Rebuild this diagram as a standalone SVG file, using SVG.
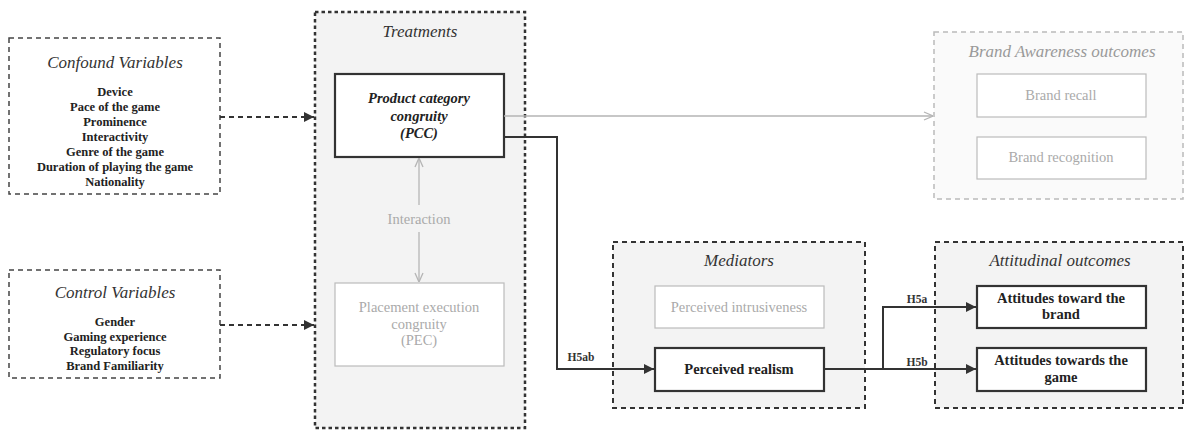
<svg xmlns="http://www.w3.org/2000/svg" width="1186" height="430" viewBox="0 0 1186 430" font-family="Liberation Serif, DejaVu Serif, serif">
<defs>
<style>
text{font-family:'Liberation Serif','DejaVu Serif',serif;text-anchor:middle;dominant-baseline:central}
.title{font-style:italic;font-size:17px;fill:#333}
.item{font-weight:bold;font-size:12.5px;fill:#222}
.grp{fill:#f3f3f3;stroke:#333;stroke-width:2;stroke-dasharray:5 4}
.grpL{fill:#fafafa;stroke:#bbb;stroke-width:1.5;stroke-dasharray:5 4}
.side{fill:#fff;stroke:#444;stroke-width:1.5;stroke-dasharray:5 4}
.boxD{fill:#fff;stroke:#333;stroke-width:2.2}
.boxL{fill:#fff;stroke:#bbb;stroke-width:1.2}
.gt{fill:#aaa;font-size:14.5px}
.bt{font-weight:bold;font-size:14.5px;fill:#222}
.pcc{font-weight:bold;font-style:italic;font-size:14.5px;fill:#222}
.lbl{font-weight:bold;font-size:11.5px;fill:#333}
.dk{fill:none;stroke:#333;stroke-width:2}
.dkd{fill:none;stroke:#333;stroke-width:2;stroke-dasharray:5 4}
.lt{fill:none;stroke:#b5b5b5;stroke-width:1.3}
</style>
<marker id="af" viewBox="0 0 10 10" refX="10" refY="5" markerWidth="10" markerHeight="10" markerUnits="userSpaceOnUse" orient="auto"><path d="M0,0 L10,5 L0,10 z" fill="#333"/></marker>
<marker id="ao" viewBox="0 0 10 10" refX="10" refY="5" markerWidth="10" markerHeight="10" markerUnits="userSpaceOnUse" orient="auto"><path d="M1,1 L10,5 L1,9" fill="none" stroke="#b5b5b5" stroke-width="1.3"/></marker>
</defs>
<rect width="1186" height="430" fill="#fff"/>

<g id="confound">
<rect class="side" x="9" y="38" width="211" height="156"/>
<text class="title" x="115" y="62">Confound Variables</text>
<text class="item" x="115" y="92">Device</text>
<text class="item" x="115" y="107">Pace of the game</text>
<text class="item" x="115" y="122">Prominence</text>
<text class="item" x="115" y="137">Interactivity</text>
<text class="item" x="115" y="152">Genre of the game</text>
<text class="item" x="115" y="167">Duration of playing the game</text>
<text class="item" x="115" y="182">Nationality</text>
</g>

<g id="control">
<rect class="side" x="9" y="270" width="211" height="108"/>
<text class="title" x="115" y="292">Control Variables</text>
<text class="item" x="115" y="322">Gender</text>
<text class="item" x="115" y="337">Gaming experience</text>
<text class="item" x="115" y="351">Regulatory focus</text>
<text class="item" x="115" y="366">Brand Familiarity</text>
</g>

<g id="treatments">
<rect class="grp" x="315" y="12" width="210" height="416" style="stroke-dasharray:3.5 3;stroke-width:2.5"/>
<text class="title" x="420" y="31">Treatments</text>
</g>

<g id="pcc">
<rect class="boxD" x="335" y="74" width="169" height="83"/>
<text class="pcc" x="419" y="98">Product category</text>
<text class="pcc" x="419" y="116">congruity</text>
<text class="pcc" x="419" y="133">(PCC)</text>
</g>

<g id="pec">
<rect class="boxL" x="335" y="283" width="169" height="83"/>
<text class="gt" x="419" y="307">Placement execution</text>
<text class="gt" x="419" y="324">congruity</text>
<text class="gt" x="419" y="340">(PEC)</text>
</g>

<g id="brandAwareness">
<rect class="grpL" x="934" y="32" width="249" height="167"/>
<text class="title" x="1062" y="51" style="fill:#999">Brand Awareness outcomes</text>
</g>
<g id="brandRecall">
<rect class="boxL" x="977" y="74" width="169" height="43"/>
<text class="gt" x="1061" y="95">Brand recall</text>
</g>
<g id="brandRecognition">
<rect class="boxL" x="977" y="137" width="169" height="42"/>
<text class="gt" x="1061" y="157">Brand recognition</text>
</g>

<g id="mediators">
<rect class="grp" x="613" y="242" width="252" height="166"/>
<text class="title" x="739" y="260">Mediators</text>
</g>
<g id="intrusiveness">
<rect class="boxL" x="655" y="286" width="169" height="42"/>
<text class="gt" x="739" y="307">Perceived intrusiveness</text>
</g>
<g id="realism">
<rect class="boxD" x="655" y="348" width="169" height="43"/>
<text class="bt" x="739" y="369">Perceived realism</text>
</g>

<g id="attitudinal">
<rect class="grp" x="935" y="242" width="248" height="166"/>
<text class="title" x="1060" y="260">Attitudinal outcomes</text>
</g>
<g id="attBrand">
<rect class="boxD" x="977" y="286" width="169" height="42"/>
<text class="bt" x="1061" y="298">Attitudes toward the</text>
<text class="bt" x="1061" y="314">brand</text>
</g>
<g id="attGame">
<rect class="boxD" x="977" y="348" width="169" height="43"/>
<text class="bt" x="1061" y="360">Attitudes towards the</text>
<text class="bt" x="1061" y="377">game</text>
</g>

<g id="connectors">
<path class="dkd" d="M220,117 H314" marker-end="url(#af)"/>
<path class="dkd" d="M220,325 H314" marker-end="url(#af)"/>
<path class="lt" d="M504,116 H933" marker-end="url(#ao)"/>
<path class="lt" d="M419,205 V158" marker-end="url(#ao)"/>
<path class="lt" d="M419,232 V282" marker-end="url(#ao)"/>
<text x="419" y="219" style="font-size:14.5px;fill:#aaa">Interaction</text>
<path class="dk" d="M504,137 H557 V369 H654" marker-end="url(#af)"/>
<text class="lbl" x="581" y="357">H5ab</text>
<path class="dk" d="M824,369 H976" marker-end="url(#af)"/>
<path class="dk" d="M883,369 V307 H976" marker-end="url(#af)"/>
<text class="lbl" x="917" y="299">H5a</text>
<text class="lbl" x="917" y="362">H5b</text>
</g>
</svg>
